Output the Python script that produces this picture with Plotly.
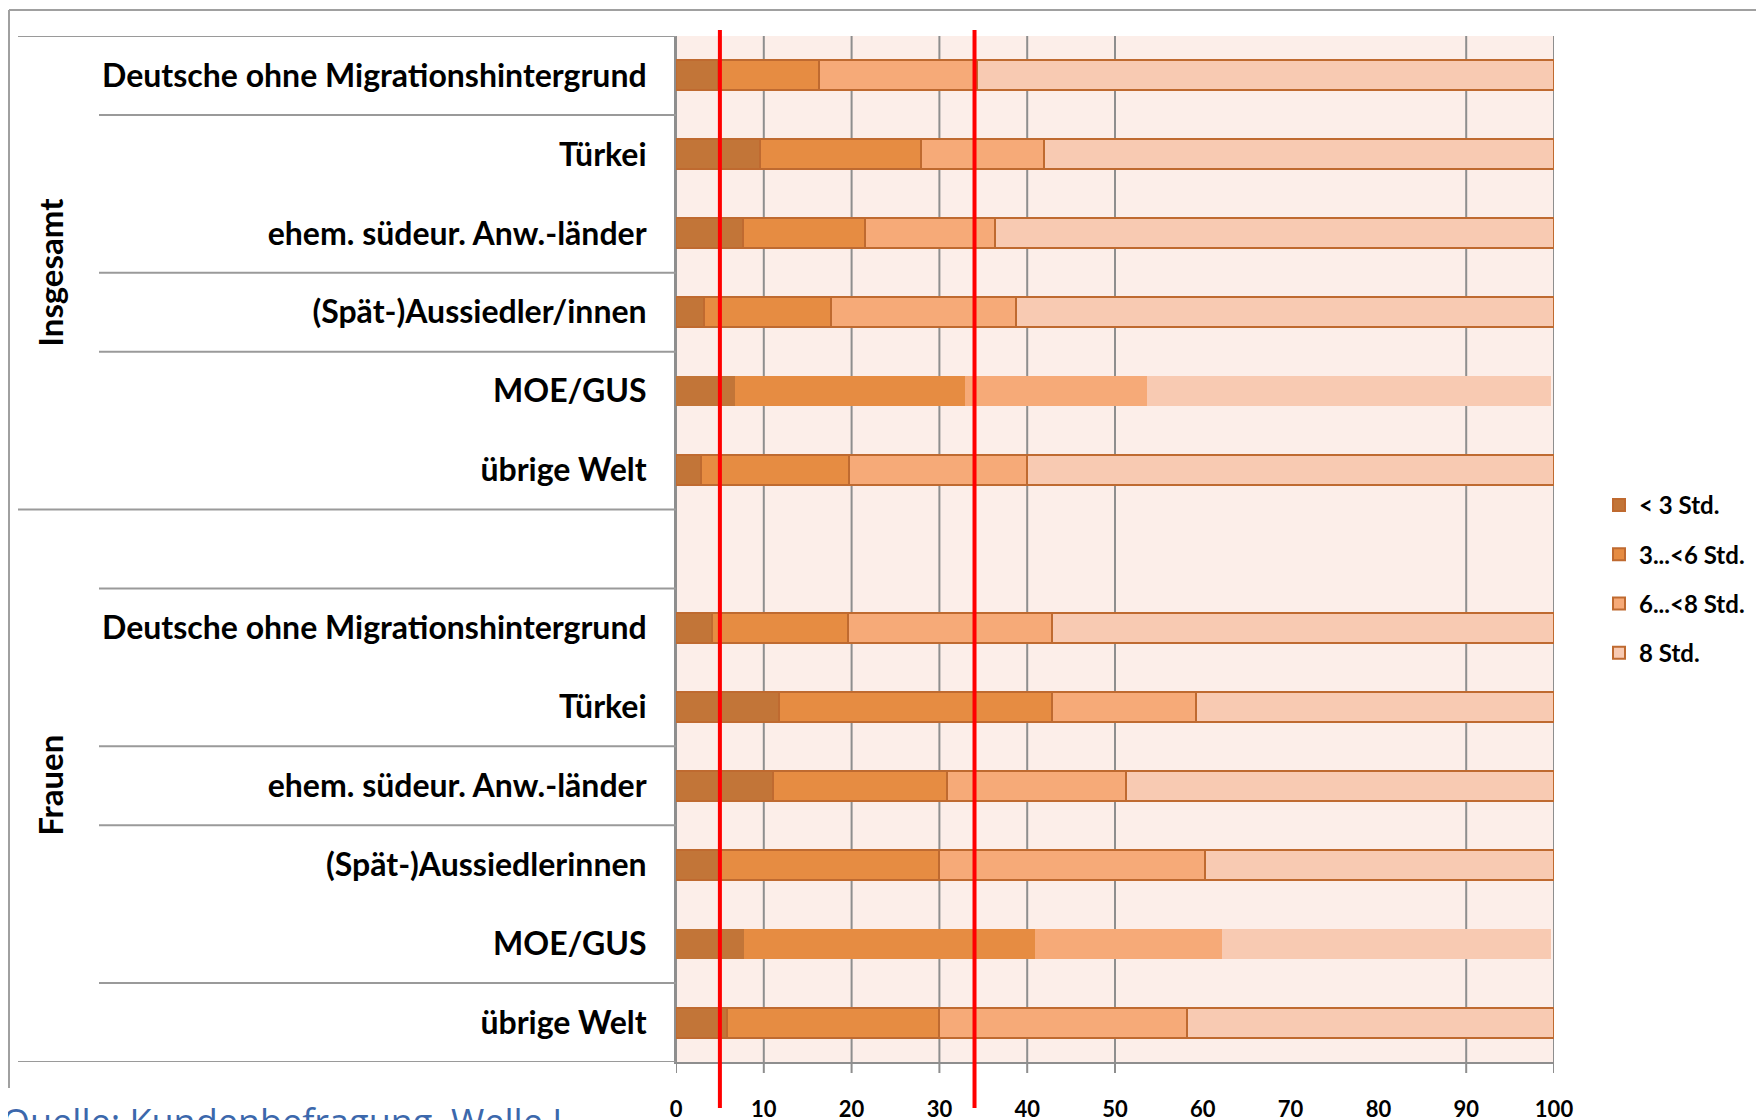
import plotly.graph_objects as go

# categories (two groups, blank slot in between)
cats_insgesamt = ["Deutsche ohne Migrationshintergrund", "Türkei", "ehem. südeur. Anw.-länder",
                  "(Spät-)Aussiedler/innen", "MOE/GUS", "übrige Welt"]
cats_frauen = ["Deutsche ohne Migrationshintergrund", "Türkei", "ehem. südeur. Anw.-länder",
               "(Spät-)Aussiedlerinnen", "MOE/GUS", "übrige Welt"]
groups = ["Insgesamt", "Frauen"]

# shares in percent, Insgesamt rows then Frauen rows
lt3 = [4.8, 9.6, 7.6, 3.2, 6.7, 2.8,
       4.1, 11.7, 11.0, 5.0, 7.8, 5.8]
h3_6 = [11.5, 18.3, 13.9, 14.5, 26.2, 16.9,
        15.5, 31.1, 19.9, 24.9, 33.1, 24.2]
h6_8 = [18.0, 14.0, 14.8, 21.0, 20.7, 20.3,
        23.2, 16.4, 20.4, 30.4, 21.3, 28.2]
h8 = [65.7, 58.1, 63.7, 61.3, 46.1, 60.0,
      57.2, 40.8, 48.7, 39.7, 37.5, 41.8]
series_names = ["< 3 Std.", "3...<6 Std.", "6...<8 Std.", "8 Std."]

x_ticks = [0, 10, 20, 30, 40, 50, 60, 70, 80, 90, 100]
grid_vals = [0, 10, 20, 30, 40, 50, 90, 100]
ref_lines = [5, 34]

colors = ["#C27538", "#E68C42", "#F6AA78", "#F8CAB2"]
outline = "#BF6A30"

labels = cats_insgesamt + cats_frauen
y_pos = list(range(len(cats_insgesamt))) + [len(cats_insgesamt) + 1 + i for i in range(len(cats_frauen))]
line_w = [0 if lab == "MOE/GUS" else 2 for lab in labels]

# page body has an 8px margin, so the figure is drawn 8px lower/right
OFF = 8
W, H = 1764 - OFF, 1120 - OFF
L, T = 676 - OFF, 36 - OFF
R = W - (1554 - OFF)
B = H - (1062 - OFF)
pw, ph = W - L - R, H - T - B


def px_x(p):
    # page pixel -> paper x
    return (p - OFF - L) / pw


def px_y(p):
    # page pixel -> paper y
    return (H - B - (p - OFF)) / ph


fig = go.Figure()
for name, vals, col in zip(series_names, [lt3, h3_6, h6_8, h8], colors):
    fig.add_trace(go.Bar(
        x=vals, y=y_pos, orientation="h", name=name, legendgroup=name,
        marker=dict(color=col, line=dict(color=outline, width=line_w)),
        width=0.38, hoverinfo="x+name"
    ))

shapes = []
# vertical grid lines with tick stubs below the axis
for g in grid_vals:
    shapes.append(dict(type="line", xref="x", yref="paper", x0=g, x1=g,
                       y0=px_y(1073), y1=1, layer="below",
                       line=dict(color="#8E8E8E", width=2)))
# red reference lines
for r in ref_lines:
    shapes.append(dict(type="line", xref="x", yref="paper", x0=r, x1=r,
                       y0=px_y(1108), y1=px_y(30), layer="above",
                       line=dict(color="#FF0000", width=4)))
# table lines on the left
full_lines = [-0.5, 5.5, 12.5]
short_lines = [0.5, 2.5, 3.5, 6.5, 8.5, 9.5, 11.5]
for yv in full_lines:
    shapes.append(dict(type="line", xref="paper", yref="y", x0=px_x(18), x1=0,
                       y0=yv, y1=yv, line=dict(color="#9A9A9A", width=2)))
for yv in short_lines:
    shapes.append(dict(type="line", xref="paper", yref="y", x0=px_x(99), x1=0,
                       y0=yv, y1=yv, line=dict(color="#9A9A9A", width=2)))
# outer frame
shapes.append(dict(type="line", xref="paper", yref="paper", x0=px_x(9), x1=px_x(1764),
                   y0=px_y(10), y1=px_y(10), line=dict(color="#A0A0A0", width=2)))
shapes.append(dict(type="line", xref="paper", yref="paper", x0=px_x(9), x1=px_x(9),
                   y0=px_y(10), y1=px_y(1088), line=dict(color="#A0A0A0", width=2)))

annotations = [
    dict(text=groups[0], xref="paper", yref="y", x=px_x(50), y=2.5, textangle=-90,
         xanchor="center", yanchor="middle", showarrow=False,
         font=dict(family="Lato", size=33, weight=700, color="black")),
    dict(text=groups[1], xref="paper", yref="y", x=px_x(50), y=9.0, textangle=-90,
         xanchor="center", yanchor="middle", showarrow=False,
         font=dict(family="Lato", size=33, weight=700, color="black")),
    dict(text="Quelle: Kundenbefragung, Welle I", xref="paper", yref="paper",
         x=px_x(0), y=px_y(1095), xanchor="left", yanchor="top", showarrow=False,
         font=dict(family="Open Sans", size=36, color="#3C68AC")),
]

fig.update_layout(
    width=W, height=H,
    margin=dict(l=L, r=R, t=T, b=B, autoexpand=False),
    barmode="stack",
    paper_bgcolor="white",
    plot_bgcolor="#FCEEE9",
    font=dict(family="Lato", color="black"),
    shapes=shapes,
    annotations=annotations,
    showlegend=True,
    legend=dict(x=px_x(1599), y=px_y(483), xanchor="left", yanchor="top",
                traceorder="grouped", tracegroupgap=15, bgcolor="rgba(0,0,0,0)",
                font=dict(family="Lato", size=24, weight=700)),
    xaxis=dict(range=[0, 100], tickvals=x_ticks, showgrid=False, zeroline=False,
               showline=True, linecolor="#8E8E8E", linewidth=2, ticks="",
               ticklabelstandoff=27, automargin=False,
               tickfont=dict(family="Lato", size=22, weight=700)),
    yaxis=dict(range=[12.5, -0.5], tickvals=y_pos, ticktext=labels, showgrid=False,
               zeroline=False, showline=True, linecolor="#8E8E8E", linewidth=2,
               ticks="", ticklabelstandoff=21, automargin=False,
               tickfont=dict(family="Lato", size=32, weight=700)),
)

fig.write_html("out.html")
